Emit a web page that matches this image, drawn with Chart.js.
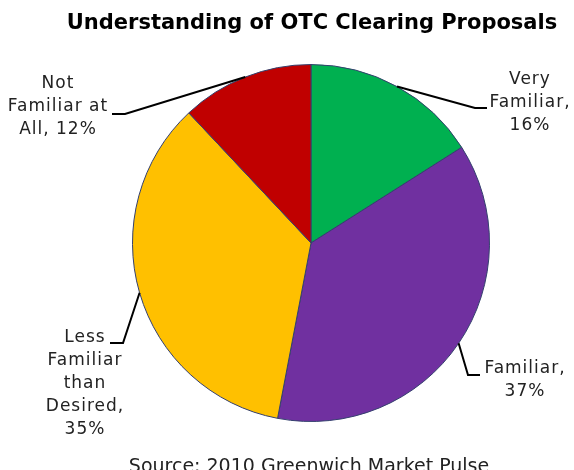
<!DOCTYPE html>
<html>
<head>
<meta charset="utf-8">
<script src="https://cdn.jsdelivr.net/npm/chart.js@4.4.1/dist/chart.umd.min.js"></script>
<style>
  html, body { margin: 0; padding: 0; background: #ffffff; }
  #wrap { width: 574px; height: 470px; position: relative; }
</style>
</head>
<body>
<div id="wrap"><canvas id="c" width="574" height="470"></canvas></div>
<script>
// ---- data ----
const titleText = "Understanding of OTC Clearing Proposals";
const sourceText = "Source: 2010 Greenwich Market Pulse";
const categories = ["Very Familiar", "Familiar", "Less Familiar than Desired", "Not Familiar at All"];
const values = [16, 37, 35, 12];
const colors = ["#00B050", "#7030A0", "#FFC000", "#C00000"];
// how each category label is wrapped (text of the lines, percent appended from values)
const labelWrap = [["Very", "Familiar,"], ["Familiar,"], ["Less", "Familiar", "than", "Desired,"], ["Not", "Familiar at", "All,"]];
const pctOwnLine = [true, true, true, false];

// ---- label layout (annotation placement) ----
const labelLayout = [
  { tx: 530, ty: 80,  elbow: [475, 108], end: [487, 108] },
  { tx: 525, ty: 369, elbow: [468, 375], end: [480, 375] },
  { tx: 85,  ty: 338, elbow: [123, 343], end: [110, 343] },
  { tx: 58,  ty: 84,  elbow: [125, 114], end: [112, 114] }
];

const FONT = "'DejaVu Sans', Verdana, sans-serif";

const annotate = {
  id: 'annotate',
  afterDraw(chart) {
    const ctx = chart.ctx;
    ctx.save();
    // title
    ctx.fillStyle = '#000';
    ctx.font = 'bold 21px ' + FONT;
    ctx.textAlign = 'center';
    ctx.textBaseline = 'alphabetic';
    ctx.fillText(titleText, 312, 29);
    // source
    ctx.font = '19px ' + FONT;
    ctx.fillStyle = '#222';
    ctx.fillText(sourceText, 309, 472);

    const meta = chart.getDatasetMeta(0);
    meta.data.forEach((arc, i) => {
      const p = arc.getProps(['x', 'y', 'startAngle', 'endAngle', 'outerRadius'], true);
      const mid = (p.startAngle + p.endAngle) / 2;
      const ax = p.x + Math.cos(mid) * p.outerRadius;
      const ay = p.y + Math.sin(mid) * p.outerRadius;
      const L = labelLayout[i];
      ctx.strokeStyle = '#000';
      ctx.lineWidth = 2;
      ctx.beginPath();
      ctx.moveTo(ax, ay);
      ctx.lineTo(L.elbow[0], L.elbow[1]);
      ctx.lineTo(L.end[0], L.end[1]);
      ctx.stroke();

      const lines = labelWrap[i].slice();
      const pct = values[i] + '%';
      if (pctOwnLine[i]) lines.push(pct);
      else lines[lines.length - 1] = lines[lines.length - 1] + ' ' + pct;
      ctx.fillStyle = '#222';
      ctx.font = '17px ' + FONT;
      ctx.letterSpacing = '1px';
      ctx.textAlign = 'center';
      ctx.textBaseline = 'middle';
      lines.forEach((t, k) => ctx.fillText(t, L.tx, L.ty + k * 22.8));
      ctx.letterSpacing = '0px';
    });
    ctx.restore();
  }
};

new Chart(document.getElementById('c'), {
  type: 'pie',
  data: {
    labels: categories,
    datasets: [{
      data: values,
      backgroundColor: colors,
      borderColor: '#34406e',
      borderWidth: 1
    }]
  },
  options: {
    responsive: false,
    animation: false,
    layout: { padding: { top: 64, bottom: 48, left: 132, right: 84 } },
    plugins: {
      legend: { display: false },
      title: { display: false },
      tooltip: { enabled: false }
    }
  },
  plugins: [annotate]
});
</script>
</body>
</html>
